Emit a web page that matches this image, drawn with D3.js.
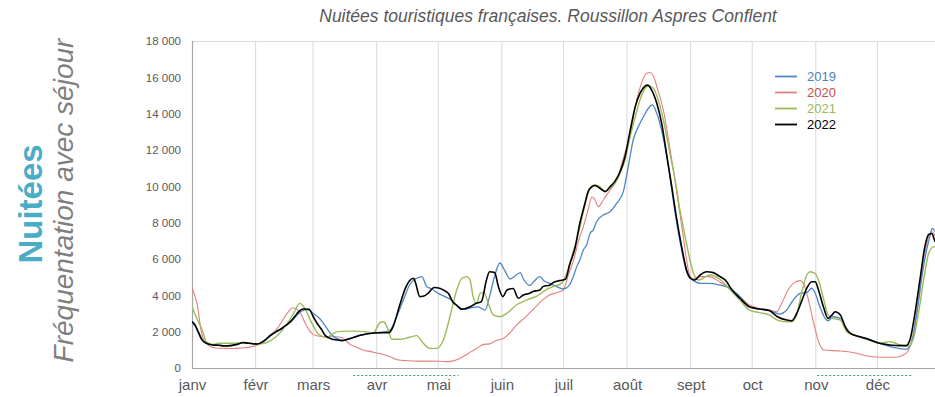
<!DOCTYPE html>
<html lang="fr">
<head>
<meta charset="utf-8">
<script src="https://cdn.jsdelivr.net/npm/d3@7"></script>
<style>
  html, body { margin: 0; padding: 0; background: #ffffff; }
  svg { display: block; font-family: "Liberation Sans", Arial, sans-serif; }
</style>
</head>
<body>
<svg id="chart" width="935" height="397"></svg>
<script>
// Mois (début de mois en jour de l'année) et libellés
const moisJours = [0, 31, 59, 90, 120, 151, 181, 212, 243, 273, 304, 334];
const moisLabels = ["janv", "févr", "mars", "avr", "mai", "juin", "juil", "août", "sept", "oct", "nov", "déc"];
const yTicks = [0, 2000, 4000, 6000, 8000, 10000, 12000, 14000, 16000, 18000];
const periodes = [[78.6, 129.8], [304.7, 351.2]];

// 2019
const jours2019 = [0,1.5,3,5,7,10,13,16,19,22,25,28,31,34,37,41,44,47,50,53,55,57,59,62,65,68,71,74,77,80,83,86.7,91.6,96.5,99.7,103,106,109.5,112,114.4,116.8,120,123.3,126.6,129.8,133,136.3,139.5,142.8,145,147.7,150,152.5,155,158,160,161.5,164.7,166.5,169.6,171.5,174.5,177.7,181,184,185.8,187.5,189,190.7,192.3,194,195.6,197.2,200.4,203.7,207,210.2,212.6,215,217.5,220,222.4,224.3,226.5,229,232,233.8,236,238.6,241,242.7,244,247.6,252,257,262,267,271.6,276.5,281.3,286.5,289.8,293,296.3,299.6,302,303.7,306,308.5,310,312.5,316,319,322.3,328.8,335,341.8,348,350.6,353,355.7,358,359.5,360.7,362.3,365];
const nuitees2019 = [2500,2300,1950,1550,1350,1280,1260,1230,1250,1300,1380,1360,1330,1400,1650,1980,2180,2450,2750,3100,3200,3200,3010,2750,2300,1830,1600,1520,1600,1760,1830,1910,1940,2090,2820,3740,4570,4940,5030,4480,4350,4110,3930,3740,3370,3230,3330,3370,3190,3930,5150,5780,5350,4900,5120,5250,4900,4540,4750,5030,4800,4660,4480,4350,4570,5030,5580,5950,6500,6770,7420,7600,8060,8420,8600,9070,9710,11080,12550,13280,13830,14300,14480,14020,13010,11200,9800,8150,6500,5300,4940,4840,4660,4660,4570,4400,3930,3370,3230,3160,2970,3190,3740,4110,4150,4390,4110,3370,2730,2600,2820,2730,2090,1820,1630,1360,1140,1030,1360,2820,5030,6500,7200,7690,7500,7200];

// 2020
const jours2020 = [0,2,3,4,5,7,9.6,12,16,20,24,28,31,34,36.4,39,41,44,47,49,51,53,55,57,59,62,66,70,73,75,77,80,83,87,92,96,100,105,110,115,121,125,129,132,136,139,142,145,148,152,155,158,162,166,170,174,178,181,183.4,186,188,190.7,193,195,196.4,198,200.4,203.7,207,210,213.5,216.7,219,221.6,223,225,227,229.7,232,234.6,237,239.4,241,242.7,244,247.6,252,257,262,267,271.6,276.5,281.7,285,287.4,290,293,296.3,298,300,303,305.6,308,316,324,329,337,343,346.7,349,351.5,354,356.6,359,360.7,362.3,365];
const nuitees2020 = [4400,3740,3200,2370,1760,1360,1140,1100,1080,1070,1100,1150,1220,1400,1600,1900,2100,2600,3100,3300,3250,3000,2500,2100,1850,1750,1720,1720,1680,1500,1300,1150,1000,900,780,650,450,400,380,380,370,350,450,620,900,1100,1300,1330,1500,1650,1950,2350,2750,3200,3650,4000,4150,4300,5120,5950,6860,7780,8700,9430,9250,8880,9250,9800,10350,11450,12920,14750,15670,16220,16270,16030,15300,14200,12730,10900,9070,7230,5950,5030,4900,5030,5030,4750,4390,3930,3470,3280,3190,3100,3560,4200,4660,4810,4660,3930,2460,1360,990,935,810,660,590,590,715,950,1900,3740,5950,7230,7500,7230,6900];

// 2021
const jours2021 = [0,2,5,7,10,13,20,27,32,36,41,46,49.5,52.5,55,58,62,65.7,69,71,75,80,84,88.4,91.6,93.3,95.7,97.3,101.4,106,109.5,112.7,116,119.2,122.5,125.7,129,131.5,133.9,135.5,137,138.7,140.4,142.3,144.4,146.8,150,153.4,158.2,163,168,172.9,176,180,182.6,185,187.5,190,192.3,194.3,196.4,198.8,201.3,203.7,206,208.6,211,213.5,216,218.3,220.8,222.4,224.8,227.2,229.7,232.9,236,237.5,240,242.3,244.7,247.1,250.3,252.4,257,262,267,271.6,276.5,281.3,285.3,289.8,292.2,294.7,297,299.6,301.2,303.7,305.3,307.7,310,312.5,316,319,322.3,328.8,335,340,341.5,345,349,351.5,354,356.6,359,361.5,363,365];
const nuitees2021 = [3370,2820,2080,1450,1300,1360,1360,1360,1320,1390,1720,2370,3010,3560,3280,2550,1820,1690,1910,2000,2030,2030,2000,1940,2500,2550,2090,1580,1580,1690,1780,1360,1080,1080,1540,2820,4290,4940,5030,4840,3930,3560,4110,4150,3560,2920,2820,3010,3480,3740,3960,4330,4480,4660,5210,6130,7050,8240,9340,9980,10070,9980,9710,9890,10150,10710,11450,12730,13830,14750,15400,15520,15400,14750,13650,11820,9980,8880,7420,6130,5120,4840,5030,5120,4900,4340,3740,3190,3050,2920,2640,2550,2550,2920,4110,5120,5300,5200,4850,3840,2920,2730,2640,2000,1820,1580,1360,1450,1420,1270,1210,1600,3010,4900,6310,6680,6600,6500];

// 2022
const jours2022 = [0,1.5,3,4.7,7,10,13,16,19,22,25,27,30,32,34,36,38,41,44,46,48,50,52,54,57,59,61,63,65,68,71,73,76,79,82,85,90,93,96,98,101,104,106,108,109,111,113,115,118,121,123,125,127,129,131.5,134,135.5,138.5,141,143.5,145,147.5,149.3,151.5,153.5,156.5,159,161.5,164.5,166,169.5,171,174.5,176,179,182,184,186.6,189,191.5,193,195,196.4,198.8,201.3,203.7,206,208.6,211,213.5,216,218.3,220.8,222,224,226.5,229,231.5,233.8,236,238.6,241,243,245,247.6,250.8,254,257,260.6,262,267,271.6,274.9,278,281.3,285.3,289.8,292.2,294.7,297,299.6,302,303.7,305.3,307.7,310,311.8,313.4,316,318.3,320.8,325.6,330.5,335,340,345,348,350,352.3,354.8,357,359,360.5,362,365];
const nuitees2022 = [2550,2370,2000,1580,1360,1270,1250,1210,1230,1300,1400,1370,1330,1320,1420,1580,1780,2000,2200,2370,2550,2820,3100,3250,3230,2850,2450,2150,1780,1600,1540,1500,1600,1690,1800,1870,1940,1950,1950,2280,3370,4400,4800,4940,4660,3930,3960,4110,4430,4380,4260,4100,3650,3450,3230,3300,3370,3560,3650,4840,5300,5250,4480,3930,4290,4380,3840,4020,4110,4200,4290,4480,4570,4700,4810,4880,5670,6590,7970,9070,9700,9990,10050,9890,9710,9980,10260,10800,11630,13050,14390,15120,15520,15570,15300,14570,13400,11600,9980,8330,6680,5400,4940,4840,5120,5300,5250,5050,4750,4480,3840,3370,3280,3230,3160,2820,2640,2600,3010,3650,4390,4750,4750,4290,3370,2730,2910,3100,2910,2280,1910,1720,1540,1360,1270,1230,1230,1600,3000,4900,6600,7350,7400,7000,6700];

const series = [
  { nom: "2020", jours: jours2020, valeurs: nuitees2020, trait: "#e3807e", texte: "#c0504d", epaisseur: 1.1 },
  { nom: "2019", jours: jours2019, valeurs: nuitees2019, trait: "#4f86c6", texte: "#4f81bd", epaisseur: 1.3 },
  { nom: "2021", jours: jours2021, valeurs: nuitees2021, trait: "#9bbb59", texte: "#9bbb59", epaisseur: 1.4 },
  { nom: "2022", jours: jours2022, valeurs: nuitees2022, trait: "#000000", texte: "#000000", epaisseur: 1.6 }
];
const ordreLegende = ["2019", "2020", "2021", "2022"];

const svg = d3.select("#chart");
const W = 935, H = 397;
const plot = { left: 192, top: 41, bottom: 368 };

const x = d3.scaleLinear().domain([0, 365]).range([plot.left, 941]);
const y = d3.scaleLinear().domain([0, 18000]).range([plot.bottom, plot.top]);

const fr = d3.formatLocale({ decimal: ",", thousands: " ", grouping: [3], currency: ["", " €"] });
const fmt = fr.format(",.0f");

// Titre
svg.append("text")
  .attr("x", 548).attr("y", 22)
  .attr("text-anchor", "middle")
  .attr("font-size", 17.5).attr("font-style", "italic")
  .attr("fill", "#595959")
  .text("Nuitées touristiques françaises. Roussillon Aspres Conflent");

// Titres verticaux
svg.append("text")
  .attr("transform", "translate(41.5,204) rotate(-90)")
  .attr("text-anchor", "middle")
  .attr("font-size", 33).attr("font-weight", "bold")
  .attr("fill", "#4bacc6")
  .text("Nuitées");
svg.append("text")
  .attr("transform", "translate(72.5,200.5) rotate(-90)")
  .attr("text-anchor", "middle")
  .attr("font-size", 28).attr("font-style", "italic")
  .attr("fill", "#7f7f7f")
  .text("Fréquentation avec séjour");

// Quadrillage vertical (débuts de mois)
svg.append("g").selectAll("line")
  .data(moisJours.slice(1))
  .join("line")
  .attr("x1", d => x(d)).attr("x2", d => x(d))
  .attr("y1", plot.top).attr("y2", plot.bottom)
  .attr("stroke", "#d9d9d9").attr("stroke-width", 1);

// Bordure haute
svg.append("line")
  .attr("x1", plot.left).attr("x2", W)
  .attr("y1", plot.top + 0.5).attr("y2", plot.top + 0.5)
  .attr("stroke", "#d9d9d9");

// Axe Y
const gy = svg.append("g")
  .attr("transform", `translate(${plot.left},0)`)
  .call(d3.axisLeft(y).tickValues(yTicks).tickFormat(fmt).tickSize(0).tickPadding(11));
gy.select(".domain").remove();
gy.selectAll("text")
  .attr("font-size", 11.5)
  .attr("fill", "#595959")
  .attr("font-family", "Liberation Sans, Arial, sans-serif");

// Axe X
const gx = svg.append("g")
  .attr("transform", `translate(0,${plot.bottom})`)
  .call(d3.axisBottom(x).tickValues(moisJours).tickFormat((d, i) => moisLabels[i]).tickSize(0).tickPadding(11));
gx.select(".domain").remove();
gx.selectAll("text")
  .attr("font-size", 15)
  .attr("fill", "#595959")
  .attr("font-family", "Liberation Sans, Arial, sans-serif");

// Lignes d'axe
svg.append("line")
  .attr("x1", plot.left + 0.5).attr("x2", plot.left + 0.5)
  .attr("y1", plot.top).attr("y2", plot.bottom)
  .attr("stroke", "#a6a6a6").attr("stroke-width", 1.2);
svg.append("line")
  .attr("x1", plot.left).attr("x2", W)
  .attr("y1", plot.bottom + 0.5).attr("y2", plot.bottom + 0.5)
  .attr("stroke", "#a6a6a6").attr("stroke-width", 1.2);

// Périodes en pointillés sous l'axe
svg.append("g").selectAll("line")
  .data(periodes)
  .join("line")
  .attr("x1", d => x(d[0])).attr("x2", d => x(d[1]))
  .attr("y1", 375.5).attr("y2", 375.5)
  .attr("stroke", "#2e9e7a").attr("stroke-width", 1)
  .attr("stroke-dasharray", "2,2");

// Courbes
svg.append("clipPath").attr("id", "zone")
  .append("rect").attr("x", plot.left).attr("y", 0).attr("width", W - plot.left).attr("height", plot.bottom);
const ligne = d3.line().curve(d3.curveMonotoneX);
svg.append("g").attr("clip-path", "url(#zone)")
  .selectAll("path")
  .data(series)
  .join("path")
  .attr("d", s => ligne(s.jours.map((j, i) => [x(j), y(s.valeurs[i])])))
  .attr("fill", "none")
  .attr("stroke", s => s.trait)
  .attr("stroke-width", s => s.epaisseur)
  .attr("stroke-linejoin", "round");

// Légende
const leg = svg.append("g").attr("transform", "translate(775,76.5)");
ordreLegende.forEach((nom, i) => {
  const s = series.find(d => d.nom === nom);
  const g = leg.append("g").attr("transform", `translate(0,${i * 16})`);
  g.append("line").attr("x1", 0).attr("x2", 22).attr("y1", 0).attr("y2", 0)
    .attr("stroke", s.trait).attr("stroke-width", 1.8);
  g.append("text").attr("x", 32).attr("y", 4.5)
    .attr("font-size", 13).attr("fill", s.texte).text(nom);
});
</script>
</body>
</html>
